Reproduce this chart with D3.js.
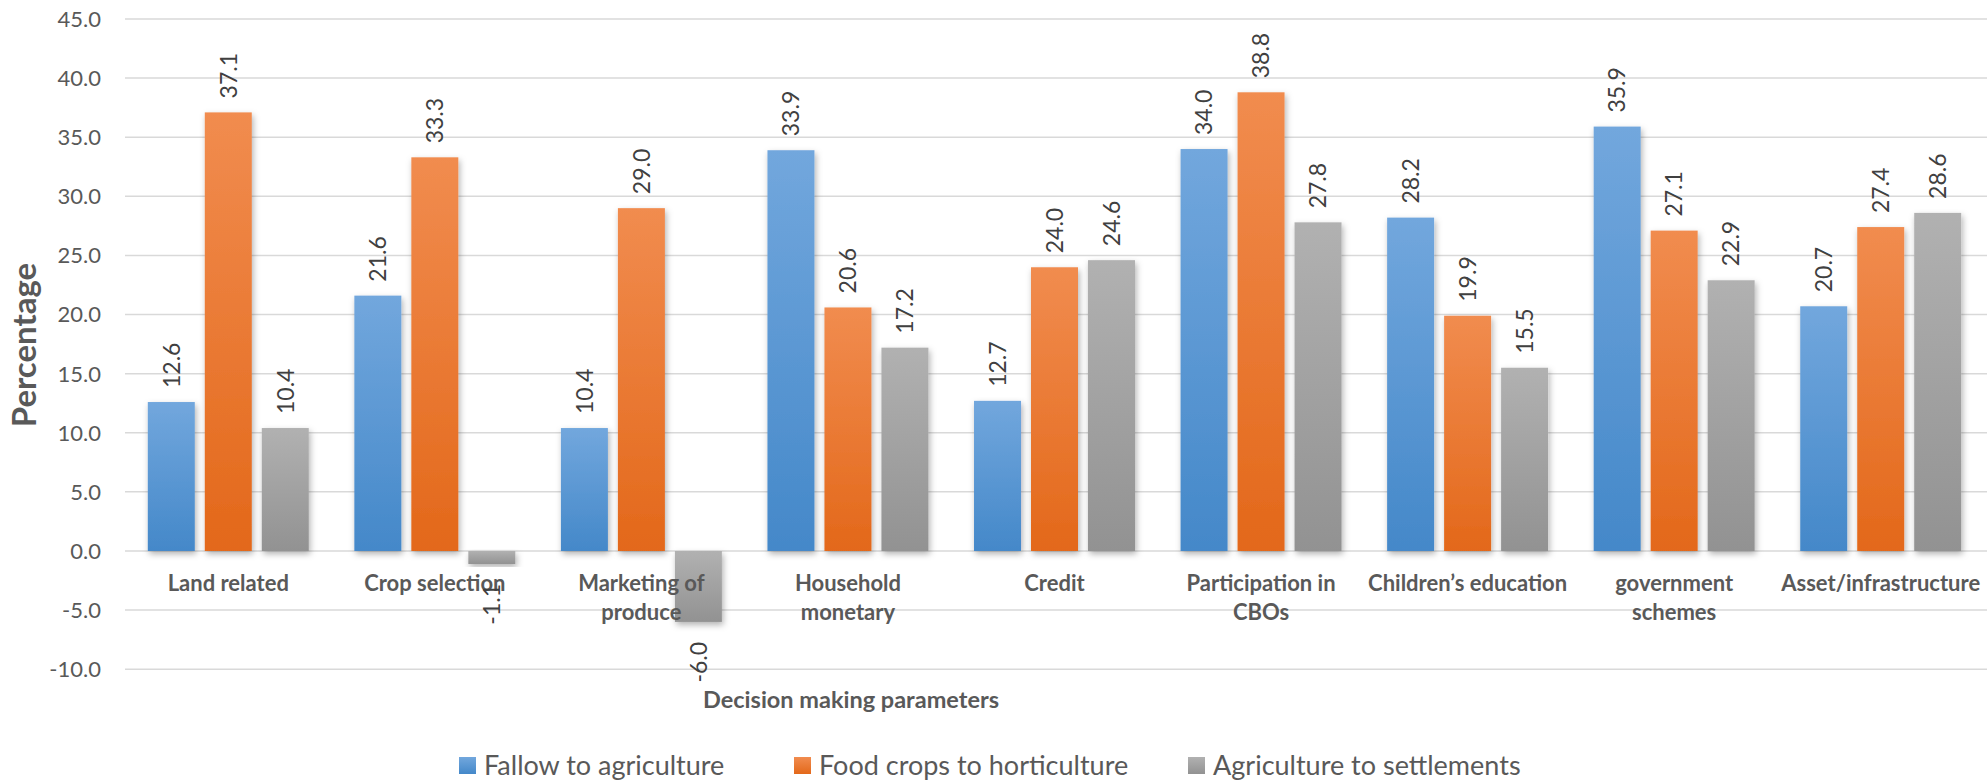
<!DOCTYPE html>
<html>
<head>
<meta charset="utf-8">
<script src="https://cdn.jsdelivr.net/npm/d3@7"></script>
<style>
  html, body { margin: 0; padding: 0; background: #ffffff; }
  svg { display: block; }
  text { font-family: Lato, "Open Sans", sans-serif; }
</style>
</head>
<body>
<svg id="chart" width="1987" height="781"></svg>
<script>
// ---- data ----
const categories = [
  "Land related", "Crop selection", "Marketing of\nproduce", "Household\nmonetary",
  "Credit", "Participation in\nCBOs", "Children’s education", "government\nschemes",
  "Asset/infrastructure"
];
const seriesNames = ["Fallow to agriculture", "Food crops to horticulture", "Agriculture to settlements"];
const fallowToAgriculture = [12.6, 21.6, 10.4, 33.9, 12.7, 34.0, 28.2, 35.9, 20.7];
const foodCropsToHorticulture = [37.1, 33.3, 29.0, 20.6, 24.0, 38.8, 19.9, 27.1, 27.4];
const agricultureToSettlements = [10.4, -1.1, -6.0, 17.2, 24.6, 27.8, 15.5, 22.9, 28.6];
const yTicks = [-10, -5, 0, 5, 10, 15, 20, 25, 30, 35, 40, 45];
const yTitle = "Percentage";
const xTitle = "Decision making parameters";

const seriesValues = [fallowToAgriculture, foodCropsToHorticulture, agricultureToSettlements];
const gradStops = [
  ["#72a7dd", "#4488c9"],
  ["#f18c4f", "#e3681a"],
  ["#b1b1b1", "#929292"]
];
// number format with plain hyphen-minus
const fmt = v => d3.format(".1f")(v).replace("\u2212", "-");

const svg = d3.select("#chart");
const defs = svg.append("defs");
gradStops.forEach((s, i) => {
  const g = defs.append("linearGradient").attr("id", "grad" + i)
    .attr("x1", 0).attr("y1", 0).attr("x2", 0).attr("y2", 1);
  g.append("stop").attr("offset", "0%").attr("stop-color", s[0]);
  g.append("stop").attr("offset", "100%").attr("stop-color", s[1]);
});
const f = defs.append("filter").attr("id", "shadow")
  .attr("x", "-20%").attr("y", "-10%").attr("width", "150%").attr("height", "130%");
f.append("feDropShadow").attr("dx", 1.5).attr("dy", 3).attr("stdDeviation", 3)
  .attr("flood-color", "#000").attr("flood-opacity", 0.3);

const plotLeft = 125, plotRight = 1984, gridRight = 1987;
const y = d3.scaleLinear().domain([-10, 45]).range([669.2, 19]);
const x0 = d3.scaleBand().domain(categories).range([plotLeft, plotRight]).padding(0);
const x1 = d3.scaleBand().domain(seriesNames).range([0, x0.bandwidth()])
  .paddingInner(10 / 57).paddingOuter(0.4);

// gridlines
svg.append("g").selectAll("line").data(yTicks).join("line")
  .attr("x1", plotLeft).attr("x2", gridRight)
  .attr("y1", d => y(d)).attr("y2", d => y(d))
  .attr("stroke", "#d9d9d9").attr("stroke-width", 1.5);

// y tick labels
svg.append("g").selectAll("text").data(yTicks).join("text")
  .attr("x", 101).attr("y", d => y(d)).attr("dy", "0.36em")
  .attr("text-anchor", "end").attr("fill", "#595959")
  .attr("font-size", 22)
  .text(d => fmt(d));

// bars
const groups = svg.append("g").selectAll("g").data(categories).join("g")
  .attr("transform", d => `translate(${x0(d)},0)`);
groups.each(function(cat, ci) {
  const g = d3.select(this);
  seriesNames.forEach((s, si) => {
    const v = seriesValues[si][ci];
    g.append("rect")
      .attr("x", x1(s)).attr("width", x1.bandwidth())
      .attr("y", y(Math.max(0, v)))
      .attr("height", Math.abs(y(v) - y(0)))
      .attr("fill", `url(#grad${si})`)
      .attr("filter", "url(#shadow)");
  });
});

// category labels
groups.each(function(cat) {
  const lines = cat.split("\n");
  const t = d3.select(this).append("text")
    .attr("text-anchor", "middle").attr("fill", "#595959")
    .attr("font-weight", "bold").attr("font-size", 22);
  lines.forEach((ln, i) => {
    t.append("tspan").attr("x", x0.bandwidth() / 2).attr("y", 591 + i * 29).text(ln);
  });
});

// data labels
groups.each(function(cat, ci) {
  const g = d3.select(this);
  seriesNames.forEach((s, si) => {
    const v = seriesValues[si][ci];
    const cx = x1(s) + x1.bandwidth() / 2;
    if (v >= 0) {
      g.append("text")
        .attr("transform", `translate(${cx},${y(v) - 14}) rotate(-90)`)
        .attr("dy", "0.36em").attr("text-anchor", "start")
        .attr("fill", "#404040").attr("font-size", 23)
        .text(fmt(v));
    } else {
      g.append("text")
        .attr("transform", `translate(${cx},${y(v) + 20}) rotate(-90)`)
        .attr("dy", "0.36em").attr("text-anchor", "end")
        .attr("fill", "#404040").attr("font-size", 23)
        .text(fmt(v));
    }
  });
});

// axis titles
svg.append("text")
  .attr("transform", "translate(36,345) rotate(-90)")
  .attr("text-anchor", "middle").attr("fill", "#595959")
  .attr("font-weight", "bold").attr("font-size", 33)
  .text(yTitle);
svg.append("text")
  .attr("x", 851).attr("y", 708)
  .attr("text-anchor", "middle").attr("fill", "#595959")
  .attr("font-weight", "bold").attr("font-size", 23.5)
  .text(xTitle);

// legend
const legendX = [459, 794, 1188];
const lg = svg.append("g").selectAll("g").data(seriesNames).join("g")
  .attr("transform", (d, i) => `translate(${legendX[i]},0)`);
lg.append("rect").attr("x", 0).attr("y", 757).attr("width", 17).attr("height", 17)
  .attr("fill", (d, i) => `url(#grad${i})`);
lg.append("text").attr("x", 25).attr("y", 775)
  .attr("fill", "#595959").attr("font-size", 27)
  .text(d => d);
</script>
</body>
</html>
